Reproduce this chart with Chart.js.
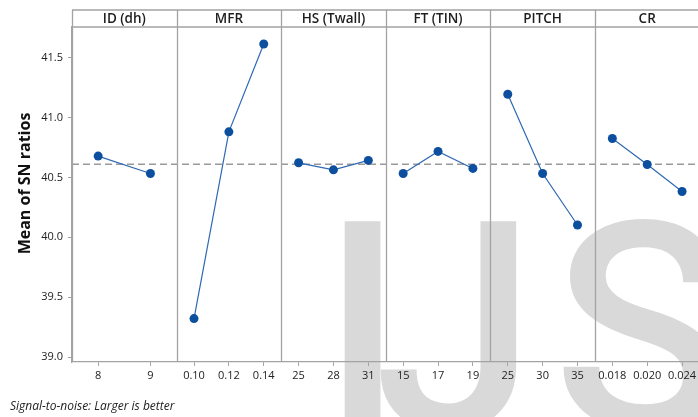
<!DOCTYPE html>
<html>
<head>
<meta charset="utf-8">
<script src="https://cdn.jsdelivr.net/npm/chart.js@4/dist/chart.umd.min.js"></script>
<style>
  html, body { margin: 0; padding: 0; background: #fff; width: 698px; height: 417px; overflow: hidden; }
  #wrap { position: relative; width: 698px; height: 417px; overflow: hidden; }
  #c { position: absolute; left: 0; top: 0; }
  #note { position: absolute; left: 10px; top: 398px; font: italic 12px "Open Sans", sans-serif; line-height: 16px; color: #222; white-space: nowrap; }
</style>
</head>
<body>
<div id="wrap">
  <canvas id="c" width="704" height="417"></canvas>
  <div id="note">Signal-to-noise: Larger is better</div>
</div>
<script>
// Main effects plot for SN ratios (larger is better)
const factorNames = ['ID (dh)', 'MFR', 'HS (Twall)', 'FT (TIN)', 'PITCH', 'CR'];

const idLevels = ['8', '9'];
const idMeans = [40.678, 40.533];

const mfrLevels = ['0.10', '0.12', '0.14'];
const mfrMeans = [39.322, 40.880, 41.613];

const hsLevels = ['25', '28', '31'];
const hsMeans = [40.622, 40.563, 40.642];

const ftLevels = ['15', '17', '19'];
const ftMeans = [40.533, 40.717, 40.575];

const pitchLevels = ['25', '30', '35'];
const pitchMeans = [41.194, 40.533, 40.103];

const crLevels = ['0.018', '0.020', '0.024'];
const crMeans = [40.825, 40.608, 40.383];

const overallMean = 40.61;
const yTickValues = [39.0, 39.5, 40.0, 40.5, 41.0, 41.5];

const FONT = '"Open Sans", sans-serif';
const FRAME = '#a3a3a3';
const POINT = '#0b4f9e';
const LINE = '#2f68b3';

// Each factor occupies one unit of the x scale; levels sit at the centres of equal slots.
const panels = [
  { levels: idLevels, means: idMeans },
  { levels: mfrLevels, means: mfrMeans },
  { levels: hsLevels, means: hsMeans },
  { levels: ftLevels, means: ftMeans },
  { levels: pitchLevels, means: pitchMeans },
  { levels: crLevels, means: crMeans }
];

const xTicks = [];
const datasets = panels.map((p, k) => {
  const pts = p.levels.map((lab, i) => {
    const x = k + (i + 0.5) / p.levels.length;
    xTicks.push({ x: x, label: lab });
    return { x: x, y: p.means[i] };
  });
  return {
    data: pts,
    showLine: true,
    borderColor: LINE,
    borderWidth: 1.2,
    pointRadius: 4.5,
    pointHoverRadius: 4.5,
    pointBackgroundColor: POINT,
    pointBorderColor: POINT,
    pointBorderWidth: 0
  };
});

// Large grey publisher mark behind the plot
const watermark = {
  id: 'watermark',
  beforeDraw(chart) {
    const ctx = chart.ctx;
    ctx.save();
    ctx.fillStyle = '#d9d9d9';
    ctx.textBaseline = 'alphabetic';
    ctx.textAlign = 'left';
    ctx.font = 'normal 500 292px Roboto, sans-serif';
    const put = (ch, inkLeft, inkRight, inkTop) => {
      const m = ctx.measureText(ch);
      const y = inkTop + m.actualBoundingBoxAscent;
      const x = inkLeft != null ? inkLeft + m.actualBoundingBoxLeft : inkRight - m.actualBoundingBoxRight;
      ctx.fillText(ch, x, y);
    };
    put('I', 344, null, 219);
    put('J', null, 520, 219);
    put('S', 562, null, 215);
    ctx.restore();
  }
};

const frame = {
  id: 'frame',
  beforeDatasetsDraw(chart) {
    const { ctx, chartArea, scales } = chart;
    const y0 = scales.y.getPixelForValue(overallMean);
    ctx.save();
    // reference line at the overall mean
    ctx.strokeStyle = '#9a9a9a';
    ctx.lineWidth = 1.3;
    ctx.setLineDash([7, 4]);
    ctx.beginPath();
    ctx.moveTo(chartArea.left, y0);
    ctx.lineTo(chartArea.right, y0);
    ctx.stroke();
    ctx.setLineDash([]);

    // panel frame, header strip and separators
    const top = 10, hb = chartArea.top;
    ctx.strokeStyle = FRAME;
    ctx.lineWidth = 1.3;
    ctx.beginPath();
    ctx.moveTo(chartArea.left, top); ctx.lineTo(chart.width, top);
    ctx.moveTo(chartArea.left, hb); ctx.lineTo(chart.width, hb);
    for (let k = 0; k <= factorNames.length; k++) {
      const x = Math.round(scales.x.getPixelForValue(k)) + 0.5;
      ctx.moveTo(x, top); ctx.lineTo(x, chartArea.bottom);
    }
    ctx.stroke();

    ctx.fillStyle = '#1e1e1e';
    ctx.font = '600 13.5px ' + FONT;
    ctx.textAlign = 'center';
    ctx.textBaseline = 'middle';
    factorNames.forEach((name, k) => {
      ctx.fillText(name, scales.x.getPixelForValue(k + 0.5), (top + hb) / 2 + 0.5);
    });

    // y axis title
    ctx.translate(25, 183.5);
    ctx.rotate(-Math.PI / 2);
    ctx.font = 'bold 16px ' + FONT;
    ctx.fillStyle = '#111';
    ctx.fillText('Mean of SN ratios', 0, 0);
    ctx.restore();
  }
};

new Chart(document.getElementById('c'), {
  type: 'scatter',
  data: { datasets: datasets },
  plugins: [watermark, frame],
  options: {
    responsive: false,
    animation: false,
    events: [],
    layout: { padding: { top: 27, right: 2.5, bottom: 0, left: 0 } },
    plugins: { legend: { display: false }, tooltip: { enabled: false } },
    scales: {
      x: {
        type: 'linear',
        min: 0,
        max: factorNames.length,
        afterBuildTicks: (s) => { s.ticks = xTicks.map(t => ({ value: t.x })); },
        afterFit: (s) => { s.height = 55; },
        ticks: {
          autoSkip: false,
          maxRotation: 0,
          padding: 3,
          color: '#222',
          font: { family: FONT, size: 11 },
          callback: (v, i) => xTicks[i] ? xTicks[i].label : ''
        },
        grid: { drawOnChartArea: false, drawTicks: true, tickLength: 4, color: FRAME },
        border: { display: true, color: FRAME, width: 1.3 }
      },
      y: {
        type: 'linear',
        min: 38.96,
        max: 41.755,
        afterBuildTicks: (s) => { s.ticks = yTickValues.map(v => ({ value: v })); },
        afterFit: (s) => { s.width = 72; },
        ticks: {
          padding: 5,
          color: '#222',
          font: { family: FONT, size: 11 },
          callback: (v) => Number(v).toFixed(1)
        },
        grid: { drawOnChartArea: false, drawTicks: true, tickLength: 4, color: FRAME },
        border: { display: true, color: FRAME, width: 1.3 }
      }
    }
  }
});
</script>
</body>
</html>
